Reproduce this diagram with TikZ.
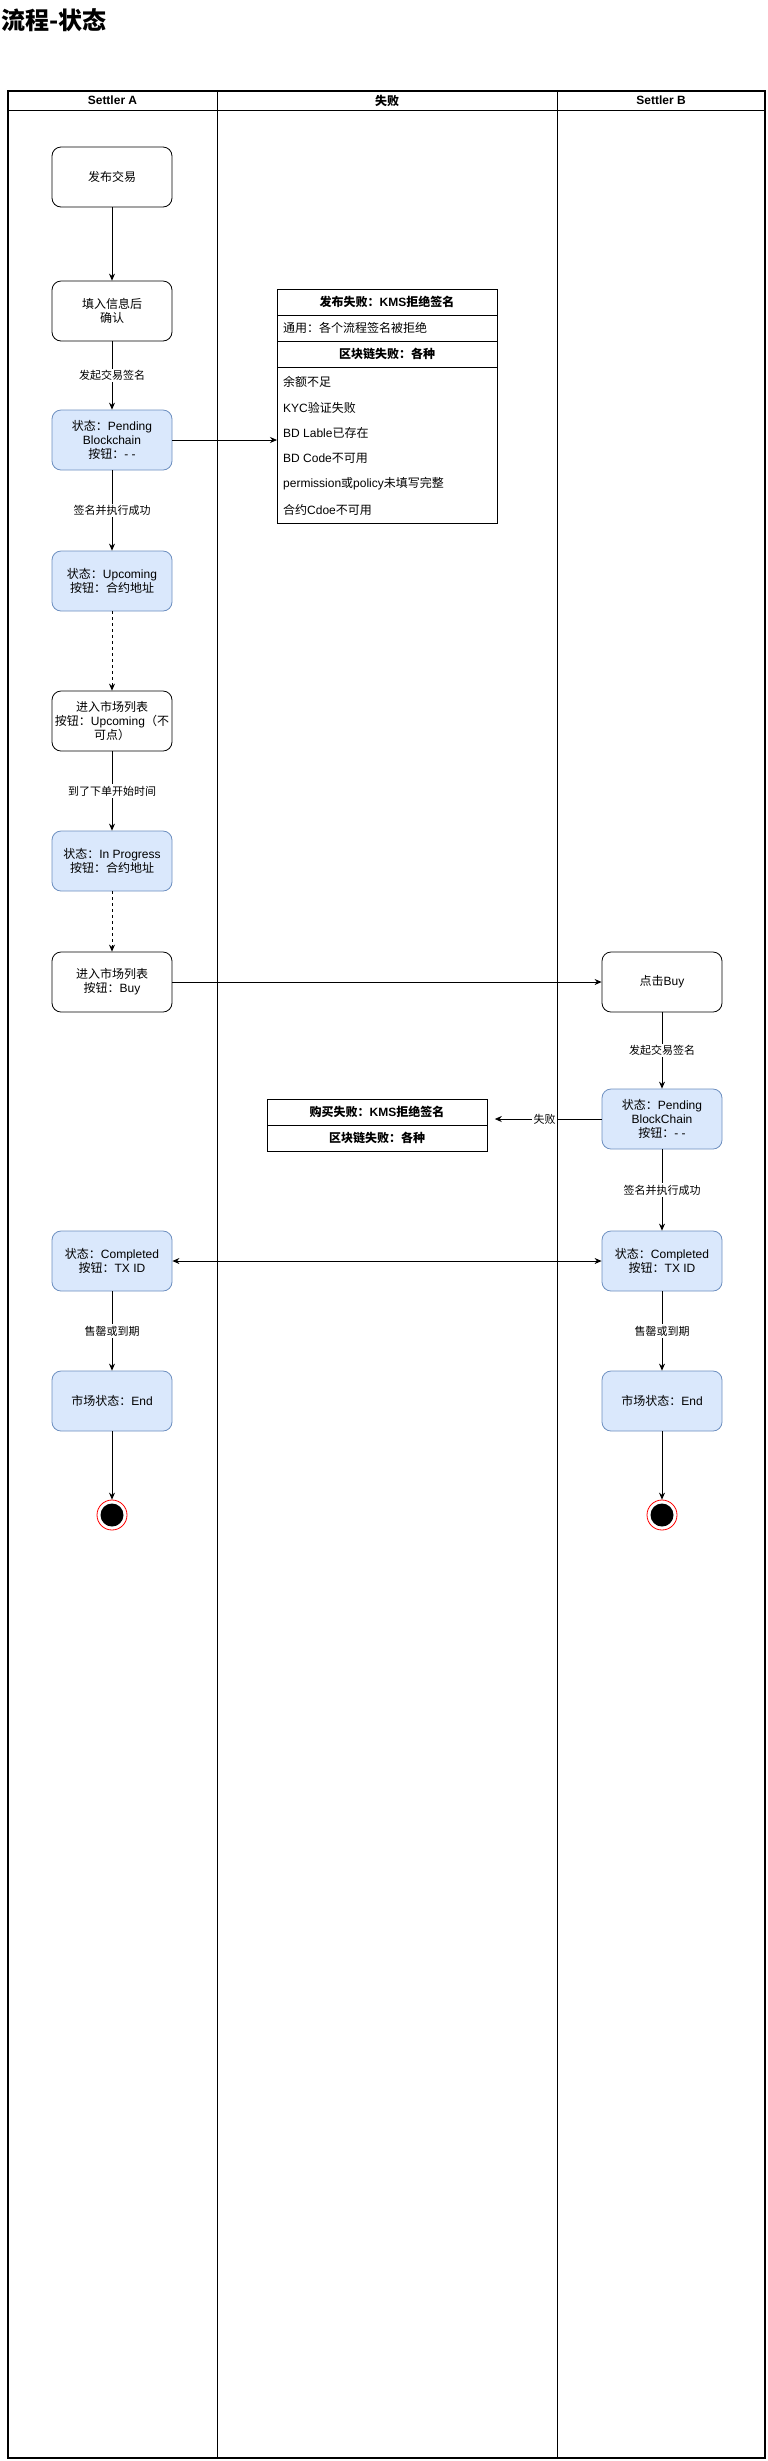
\documentclass[tikz,border=0pt]{standalone}
\usepackage{fontspec}
\setmainfont{Liberation Sans}
\newfontfamily\cjk{Noto Sans CJK SC}
\usetikzlibrary{arrows.meta,calc}
\definecolor{bfill}{HTML}{DAE8FC}
\definecolor{bdraw}{HTML}{6C8EBF}
\newcommand\zh[1]{{\cjk #1}}
\begin{document}
\begin{tikzpicture}[x=1pt,y=-1pt,
  box/.style={draw=black, rounded corners=9pt, minimum width=120pt, minimum height=60pt, align=center, font=\fontsize{12}{14}\selectfont, inner sep=2pt, line width=0.8pt},
  bluebox/.style={box, draw=bdraw, fill=bfill},
  arr/.style={-{Stealth[length=7pt,width=6pt]}, line width=0.8pt},
  arrboth/.style={{Stealth[length=7pt,width=6pt]}-{Stealth[length=7pt,width=6pt]}, line width=0.8pt},
  darr/.style={arr, dash pattern=on 3pt off 3pt},
  elab/.style={fill=white, font=\fontsize{11}{13}\selectfont, inner sep=1.5pt},
  hdr/.style={font=\fontsize{12}{14}\selectfont\bfseries},
  item/.style={anchor=west, font=\fontsize{12}{14}\selectfont, inner sep=0pt},
  endst/.style={circle, draw=red, fill=white, minimum size=30pt, inner sep=0pt, line width=0.8pt}
]
\useasboundingbox (0,0) rectangle (768,2461);
% title
\node[anchor=west, inner sep=0pt, font=\fontsize{24}{28}\selectfont\bfseries] (title) at (1,20) {\zh{流程-状态}};
% pool
\draw[line width=1.2pt] (8,91) rectangle (765,2458);
\draw[line width=1pt] (8,110) -- (765,110);
\draw[line width=1pt] (217,91) -- (217,2458);
\draw[line width=1pt] (557,91) -- (557,2458);
\node[hdr] (hA) at (112.5,100.5) {Settler A};
\node[hdr] (hF) at (387,100.5) {\zh{失败}};
\node[hdr] (hB) at (661,100.5) {Settler B};
% lane A
\node[box] (a1) at (112,177) {\zh{发布交易}};
\node[box] (a2) at (112,311) {\zh{填入信息后}\\\zh{确认}};
\node[bluebox] (a3) at (112,440) {\zh{状态：}Pending\\Blockchain\\\zh{按钮：}- -};
\node[bluebox] (a4) at (112,581) {\zh{状态：}Upcoming\\\zh{按钮：合约地址}};
\node[box] (a5) at (112,721) {\zh{进入市场列表}\\\zh{按钮：}Upcoming\zh{（不}\\\zh{可点）}};
\node[bluebox] (a6) at (112,861) {\zh{状态：}In Progress\\\zh{按钮：合约地址}};
\node[box] (a7) at (112,982) {\zh{进入市场列表}\\\zh{按钮：}Buy};
\node[bluebox] (a8) at (112,1261) {\zh{状态：}Completed\\\zh{按钮：}TX ID};
\node[bluebox] (a9) at (112,1401) {\zh{市场状态：}End};
\node[endst] (ae) at (112,1515) {};
\fill[black] (ae.center) circle[radius=11.5];
% lane B
\node[box] (b1) at (662,982) {\zh{点击}Buy};
\node[bluebox] (b2) at (662,1119) {\zh{状态：}Pending\\BlockChain\\\zh{按钮：}- -};
\node[bluebox] (b3) at (662,1261) {\zh{状态：}Completed\\\zh{按钮：}TX ID};
\node[bluebox] (b4) at (662,1401) {\zh{市场状态：}End};
\node[endst] (be) at (662,1515) {};
\fill[black] (be.center) circle[radius=11.5];
% failure table 1
\node[draw, line width=0.8pt, anchor=north west, minimum width=220pt, minimum height=234pt, inner sep=0pt] (t1) at (277,289) {};
\draw[line width=0.8pt] (277,315) -- (497,315);
\draw[line width=0.8pt] (277,341) -- (497,341);
\draw[line width=0.8pt] (277,367) -- (497,367);
\node[hdr] (t1h1) at (387,302) {\zh{发布失败：}KMS\zh{拒绝签名}};
\node[item] (t1r1) at (283,328) {\zh{通用：各个流程签名被拒绝}};
\node[hdr] (t1h2) at (387,354) {\zh{区块链失败：各种}};
\node[item] (t1i1) at (283,382) {\zh{余额不足}};
\node[item] (t1i2) at (283,407.5) {KYC\zh{验证失败}};
\node[item] (t1i3) at (283,433) {BD Lable\zh{已存在}};
\node[item] (t1i4) at (283,458.5) {BD Code\zh{不可用}};
\node[item] (t1i5) at (283,484) {permission\zh{或}policy\zh{未填写完整}};
\node[item] (t1i6) at (283,509.5) {\zh{合约}Cdoe\zh{不可用}};
% failure table 2
\node[draw, line width=0.8pt, anchor=north west, minimum width=220pt, minimum height=52pt, inner sep=0pt] (t2) at (267,1099) {};
\draw[line width=0.8pt] (267,1125) -- (487,1125);
\node[hdr] (t2h1) at (377,1112) {\zh{购买失败：}KMS\zh{拒绝签名}};
\node[hdr] (t2h2) at (377,1138) {\zh{区块链失败：各种}};
% edges lane A
\draw[arr] (a1) -- (a2);
\draw[arr] (a2) -- node[elab] {\zh{发起交易签名}} (a3);
\draw[arr] (a3) -- node[elab] {\zh{签名并执行成功}} (a4);
\draw[darr] (a4) -- (a5);
\draw[arr] (a5) -- node[elab] {\zh{到了下单开始时间}} (a6);
\draw[darr] (a6) -- (a7);
\draw[arr] (a8) -- node[elab] {\zh{售罄或到期}} (a9);
\draw[arr] (a9) -- (ae);
\draw[arr] (a3.east) -- (a3.east -| t1.west);
% cross edges
\draw[arr] (a7) -- (b1);
\draw[arrboth] (a8) -- (b3);
% edges lane B
\draw[arr] (b1) -- node[elab] {\zh{发起交易签名}} (b2);
\draw[arr] (b2) -- node[elab] {\zh{签名并执行成功}} (b3);
\draw[arr] (b3) -- node[elab] {\zh{售罄或到期}} (b4);
\draw[arr] (b4) -- (be);
\draw[arr, shorten >=7pt] (b2.west) -- node[elab] {\zh{失败}} (b2.west -| t2.east);
\end{tikzpicture}
\end{document}
